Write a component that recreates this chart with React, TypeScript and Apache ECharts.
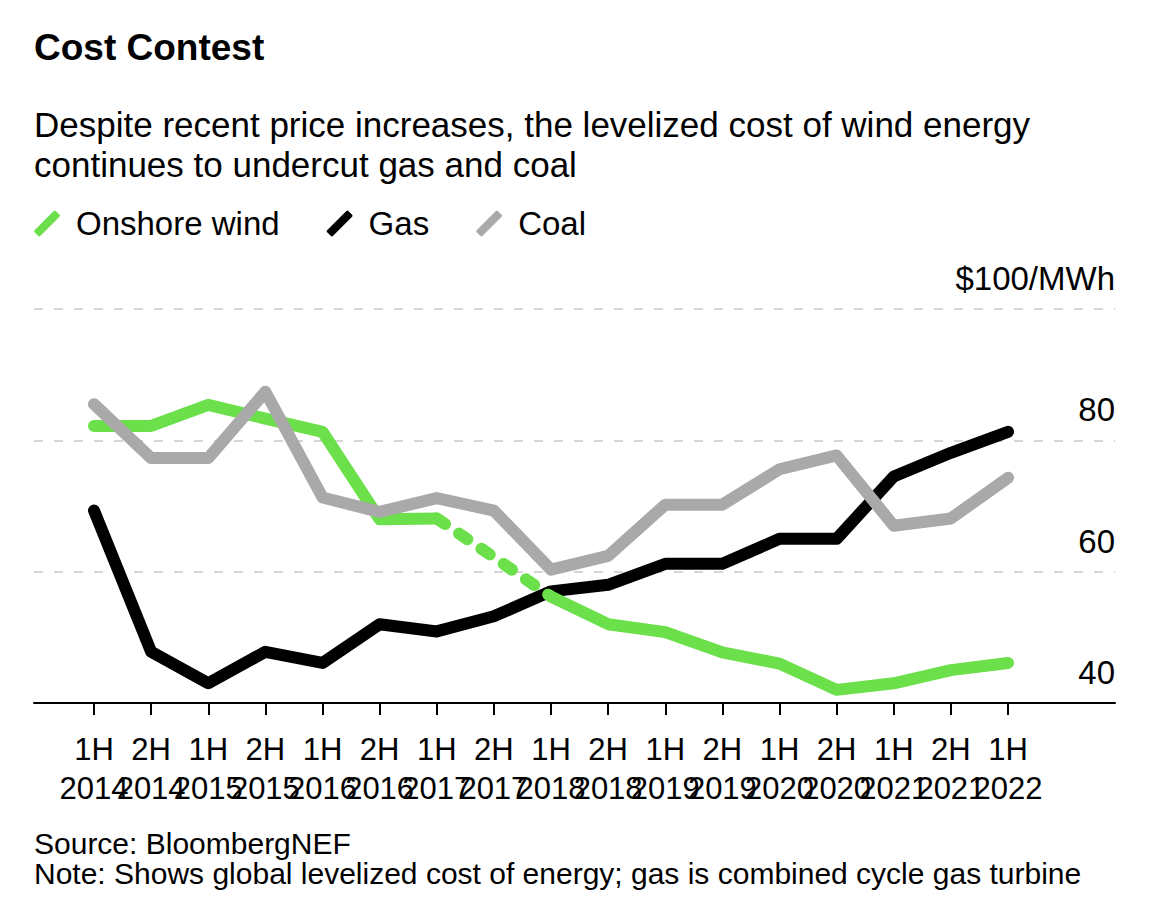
import React, { useEffect, useRef } from "react";
import * as echarts from "echarts";

const categories = [
  "1H\n2014", "2H\n2014", "1H\n2015", "2H\n2015", "1H\n2016", "2H\n2016",
  "1H\n2017", "2H\n2017", "1H\n2018", "2H\n2018", "1H\n2019", "2H\n2019",
  "1H\n2020", "2H\n2020", "1H\n2021", "2H\n2021", "1H\n2022",
];
const wind = [82.2, 82.2, 85.4, 83.3, 81.3, 68.0, 68.1, 62.2, 56.2, 52.0, 50.8, 47.7, 46.0, 42.0, 43.0, 45.0, 46.1];
const windEstimatedIdx = [7];
const gas = [69.3, 47.8, 43.0, 47.8, 46.1, 52.0, 50.9, 53.2, 57.0, 58.0, 61.2, 61.2, 65.0, 65.0, 74.5, 78.1, 81.3];
const coal = [85.5, 77.3, 77.3, 87.4, 71.3, 69.1, 71.2, 69.3, 60.3, 62.4, 70.2, 70.2, 75.6, 77.7, 67.0, 68.1, 74.3];
const yTicks = [40, 60, 80, 100];

const FONT = "'Liberation Sans', Arial, Helvetica, sans-serif";
const GREEN = "#6be04b";
const GRAY = "#a9a9a9";
const BLACK = "#000000";
const ICON = "path://M1,22 L21,2 Q22,1 23,2 L27,6 Q28,7 27,8 L7,28 Q6,29 5,28 L1,24 Q0,23 1,22 Z";

export default function App() {
  const ref = useRef<HTMLDivElement>(null);
  useEffect(() => {
    if (!ref.current) return;
    const chart = echarts.init(ref.current, undefined, { renderer: "svg" });
    const windSolid = wind.map((v, i) => (windEstimatedIdx.includes(i) ? null : v));
    const windDashed = wind.map((v, i) =>
      windEstimatedIdx.includes(i) || windEstimatedIdx.includes(i - 1) || windEstimatedIdx.includes(i + 1) ? v : null
    );
    const lineBase = (color: string) => ({
      type: "line" as const,
      xAxisIndex: 1,
      yAxisIndex: 1,
      symbol: "none",
      connectNulls: false,
      lineStyle: { color, width: 12, cap: "round", join: "round" },
      itemStyle: { color },
    });
    const yMin = yTicks[0];
    const yMax = yTicks[yTicks.length - 1];
    chart.setOption({
      animation: false,
      textStyle: { fontFamily: FONT },
      title: [
        {
          text: "Cost Contest",
          left: 34,
          top: 29,
          padding: 0,
          textStyle: { fontFamily: FONT, fontSize: 37, fontWeight: "bold", color: "#000", lineHeight: 37 },
        },
        {
          text: "Despite recent price increases, the levelized cost of wind energy\ncontinues to undercut gas and coal",
          left: 34,
          top: 104,
          padding: 0,
          textStyle: { fontFamily: FONT, fontSize: 35, fontWeight: "normal", color: "#000", lineHeight: 40 },
        },
        {
          text: "Source: BloombergNEF\nNote: Shows global levelized cost of energy; gas is combined cycle gas turbine",
          left: 34,
          top: 828,
          padding: 0,
          textStyle: { fontFamily: FONT, fontSize: 30, fontWeight: "normal", color: "#000", lineHeight: 30 },
        },
      ],
      legend: {
        left: 34,
        top: 207,
        padding: 0,
        itemWidth: 30,
        itemHeight: 26,
        itemGap: 47,
        selectedMode: false,
        textStyle: { fontFamily: FONT, fontSize: 33, color: "#000", padding: [0, 0, 0, 9] },
        data: [
          { name: "Onshore wind", icon: ICON, itemStyle: { color: GREEN } },
          { name: "Gas", icon: ICON, itemStyle: { color: BLACK } },
          { name: "Coal", icon: ICON, itemStyle: { color: GRAY } },
        ],
      },
      grid: [
        { left: 34, right: 55, top: 309, bottom: 210, containLabel: false },
        { left: 94, right: 162, top: 309, bottom: 210, containLabel: false },
      ],
      xAxis: [
        {
          gridIndex: 0,
          type: "value",
          min: 0,
          max: 1,
          splitLine: { show: false },
          axisLine: { show: true, onZero: false, lineStyle: { color: "#000", width: 2 } },
          axisTick: { show: false },
          axisLabel: { show: false },
        },
        {
          gridIndex: 1,
          type: "category",
          data: categories,
          boundaryGap: false,
          splitLine: { show: false },
          axisLine: { show: false, onZero: false },
          axisTick: { show: true, interval: 0, length: 12, lineStyle: { color: "#000", width: 2 } },
          axisLabel: {
            show: true,
            interval: 0,
            fontFamily: FONT,
            fontSize: 31,
            lineHeight: 39,
            color: "#000",
            margin: 27,
          },
        },
      ],
      yAxis: [
        {
          gridIndex: 0,
          type: "value",
          position: "right",
          min: yMin,
          max: yMax,
          interval: 20,
          axisLine: { show: false },
          axisTick: { show: false },
          splitLine: { show: true, lineStyle: { color: "#d6d6d6", width: 2, type: [9, 11] } },
          axisLabel: {
            inside: true,
            margin: 0,
            showMinLabel: true,
            showMaxLabel: true,
            formatter: (v: number) => (v === yMax ? "$" + v + "/MWh" : String(v)),
            fontFamily: FONT,
            fontSize: 33,
            lineHeight: 33,
            color: "#000",
            verticalAlign: "bottom",
            padding: [0, 0, 14, 0],
          },
        },
        {
          gridIndex: 1,
          type: "value",
          min: yMin,
          max: yMax,
          interval: 20,
          show: false,
          splitLine: { show: false },
        },
      ],
      series: [
        { ...lineBase(BLACK), name: "Gas", data: gas, z: 2 },
        { ...lineBase(GREEN), name: "Onshore wind", data: windSolid, z: 3 },
        {
          ...lineBase(GREEN),
          name: "Onshore wind (estimate)",
          data: windDashed,
          z: 3,
          lineStyle: { color: GREEN, width: 12, cap: "round", join: "round", type: [10, 17] },
        },
        { ...lineBase(GRAY), name: "Coal", data: coal, z: 4 },
      ],
    });
    return () => chart.dispose();
  }, []);
  return <div ref={ref} style={{ position: "absolute", left: 0, top: 0, width: 1170, height: 913 }} />;
}
